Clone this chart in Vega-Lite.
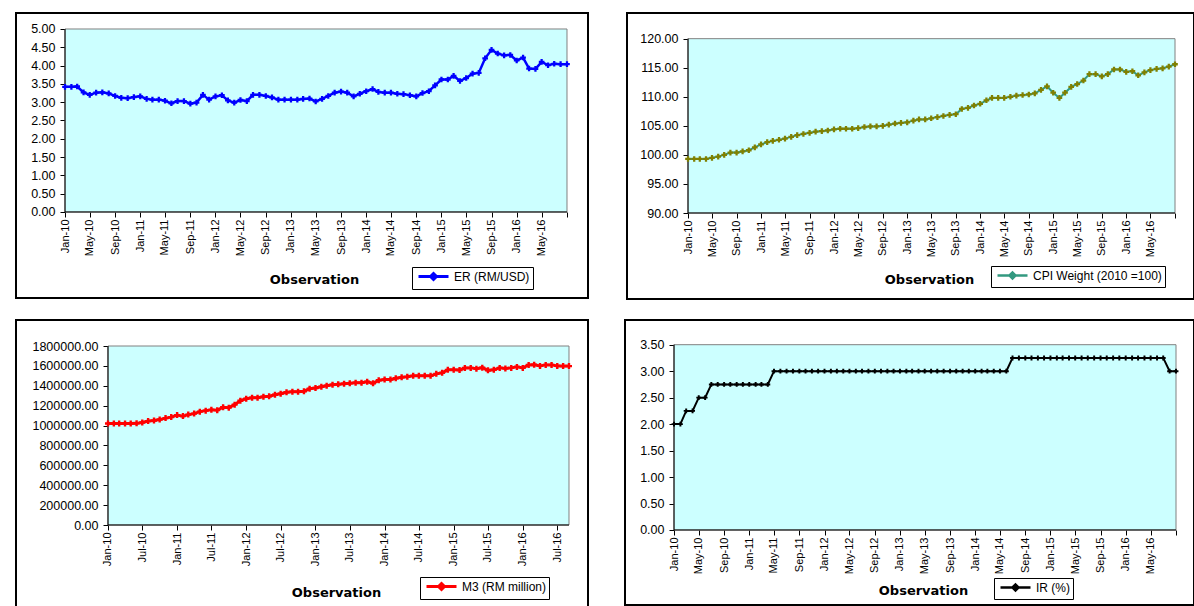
{
"$schema": "https://vega.github.io/schema/vega-lite/v6.json",
"background": "#ffffff",
"padding": {"left": 15, "top": 12, "right": 0, "bottom": 0},
"config": {
 "view": {"stroke": "#000000", "strokeWidth": 2, "fill": "#ffffff"},
 "axis": {"grid": false, "labelOverlap": false, "labelFlush": false, "labelBound": false, "labelSeparation": 0, "domain": false, "tickColor": "#000000", "tickSize": 5, "labelColor": "#000000", "labelFont": "Liberation Sans", "zindex": 1},
 "axisX": {"labelFontSize": 11, "labelPadding": 2, "labelAngle": -90},
 "axisY": {"labelFontSize": 12.5, "labelPadding": 5},
 "legend": {"orient": "none", "strokeColor": "#000000", "fillColor": "#ffffff", "padding": 3, "labelFont": "Liberation Sans", "labelFontSize": 12, "labelColor": "#000000", "symbolType": "M-3,0H3M-0.6,0L0,-0.6L0.6,0L0,0.6Z", "symbolSize": 100, "symbolOffset": 12, "labelOffset": 14}
},
"datasets": {"d": [
{"date":"2010-01-01","er":3.42,"cpi":99.3,"m3":1020000,"ir":2.00},
{"date":"2010-02-01","er":3.42,"cpi":99.3,"m3":1020000,"ir":2.00},
{"date":"2010-03-01","er":3.43,"cpi":99.3,"m3":1020000,"ir":2.25},
{"date":"2010-04-01","er":3.27,"cpi":99.3,"m3":1020000,"ir":2.25},
{"date":"2010-05-01","er":3.20,"cpi":99.5,"m3":1020000,"ir":2.50},
{"date":"2010-06-01","er":3.26,"cpi":99.7,"m3":1022000,"ir":2.50},
{"date":"2010-07-01","er":3.27,"cpi":100.0,"m3":1030000,"ir":2.75},
{"date":"2010-08-01","er":3.24,"cpi":100.4,"m3":1045000,"ir":2.75},
{"date":"2010-09-01","er":3.17,"cpi":100.4,"m3":1050000,"ir":2.75},
{"date":"2010-10-01","er":3.12,"cpi":100.6,"m3":1060000,"ir":2.75},
{"date":"2010-11-01","er":3.11,"cpi":100.8,"m3":1075000,"ir":2.75},
{"date":"2010-12-01","er":3.14,"cpi":101.3,"m3":1085000,"ir":2.75},
{"date":"2011-01-01","er":3.16,"cpi":101.8,"m3":1105000,"ir":2.75},
{"date":"2011-02-01","er":3.09,"cpi":102.2,"m3":1095000,"ir":2.75},
{"date":"2011-03-01","er":3.07,"cpi":102.4,"m3":1110000,"ir":2.75},
{"date":"2011-04-01","er":3.07,"cpi":102.6,"m3":1120000,"ir":2.75},
{"date":"2011-05-01","er":3.04,"cpi":102.8,"m3":1140000,"ir":3.00},
{"date":"2011-06-01","er":2.97,"cpi":103.1,"m3":1150000,"ir":3.00},
{"date":"2011-07-01","er":3.03,"cpi":103.4,"m3":1158000,"ir":3.00},
{"date":"2011-08-01","er":3.03,"cpi":103.6,"m3":1155000,"ir":3.00},
{"date":"2011-09-01","er":2.96,"cpi":103.8,"m3":1185000,"ir":3.00},
{"date":"2011-10-01","er":2.99,"cpi":104.0,"m3":1180000,"ir":3.00},
{"date":"2011-11-01","er":3.20,"cpi":104.1,"m3":1210000,"ir":3.00},
{"date":"2011-12-01","er":3.07,"cpi":104.2,"m3":1250000,"ir":3.00},
{"date":"2012-01-01","er":3.16,"cpi":104.4,"m3":1270000,"ir":3.00},
{"date":"2012-02-01","er":3.19,"cpi":104.5,"m3":1280000,"ir":3.00},
{"date":"2012-03-01","er":3.05,"cpi":104.5,"m3":1280000,"ir":3.00},
{"date":"2012-04-01","er":2.99,"cpi":104.5,"m3":1290000,"ir":3.00},
{"date":"2012-05-01","er":3.06,"cpi":104.6,"m3":1295000,"ir":3.00},
{"date":"2012-06-01","er":3.03,"cpi":104.8,"m3":1310000,"ir":3.00},
{"date":"2012-07-01","er":3.20,"cpi":104.9,"m3":1320000,"ir":3.00},
{"date":"2012-08-01","er":3.20,"cpi":104.9,"m3":1335000,"ir":3.00},
{"date":"2012-09-01","er":3.17,"cpi":105.0,"m3":1340000,"ir":3.00},
{"date":"2012-10-01","er":3.13,"cpi":105.2,"m3":1340000,"ir":3.00},
{"date":"2012-11-01","er":3.07,"cpi":105.4,"m3":1345000,"ir":3.00},
{"date":"2012-12-01","er":3.07,"cpi":105.5,"m3":1370000,"ir":3.00},
{"date":"2013-01-01","er":3.07,"cpi":105.6,"m3":1378000,"ir":3.00},
{"date":"2013-02-01","er":3.07,"cpi":105.9,"m3":1390000,"ir":3.00},
{"date":"2013-03-01","er":3.09,"cpi":106.1,"m3":1400000,"ir":3.00},
{"date":"2013-04-01","er":3.10,"cpi":106.1,"m3":1410000,"ir":3.00},
{"date":"2013-05-01","er":3.02,"cpi":106.3,"m3":1415000,"ir":3.00},
{"date":"2013-06-01","er":3.09,"cpi":106.5,"m3":1420000,"ir":3.00},
{"date":"2013-07-01","er":3.17,"cpi":106.7,"m3":1425000,"ir":3.00},
{"date":"2013-08-01","er":3.26,"cpi":106.9,"m3":1430000,"ir":3.00},
{"date":"2013-09-01","er":3.29,"cpi":107.0,"m3":1430000,"ir":3.00},
{"date":"2013-10-01","er":3.26,"cpi":107.9,"m3":1440000,"ir":3.00},
{"date":"2013-11-01","er":3.16,"cpi":108.1,"m3":1425000,"ir":3.00},
{"date":"2013-12-01","er":3.23,"cpi":108.5,"m3":1455000,"ir":3.00},
{"date":"2014-01-01","er":3.30,"cpi":108.8,"m3":1462000,"ir":3.00},
{"date":"2014-02-01","er":3.36,"cpi":109.4,"m3":1462000,"ir":3.00},
{"date":"2014-03-01","er":3.28,"cpi":109.8,"m3":1475000,"ir":3.00},
{"date":"2014-04-01","er":3.26,"cpi":109.8,"m3":1485000,"ir":3.00},
{"date":"2014-05-01","er":3.26,"cpi":109.8,"m3":1490000,"ir":3.00},
{"date":"2014-06-01","er":3.23,"cpi":110.0,"m3":1500000,"ir":3.00},
{"date":"2014-07-01","er":3.22,"cpi":110.2,"m3":1500000,"ir":3.25},
{"date":"2014-08-01","er":3.19,"cpi":110.3,"m3":1500000,"ir":3.25},
{"date":"2014-09-01","er":3.16,"cpi":110.4,"m3":1500000,"ir":3.25},
{"date":"2014-10-01","er":3.25,"cpi":110.6,"m3":1520000,"ir":3.25},
{"date":"2014-11-01","er":3.30,"cpi":111.2,"m3":1530000,"ir":3.25},
{"date":"2014-12-01","er":3.46,"cpi":111.8,"m3":1560000,"ir":3.25},
{"date":"2015-01-01","er":3.62,"cpi":110.7,"m3":1560000,"ir":3.25},
{"date":"2015-02-01","er":3.62,"cpi":109.8,"m3":1558000,"ir":3.25},
{"date":"2015-03-01","er":3.72,"cpi":110.7,"m3":1580000,"ir":3.25},
{"date":"2015-04-01","er":3.58,"cpi":111.7,"m3":1580000,"ir":3.25},
{"date":"2015-05-01","er":3.66,"cpi":112.2,"m3":1572000,"ir":3.25},
{"date":"2015-06-01","er":3.78,"cpi":112.8,"m3":1582000,"ir":3.25},
{"date":"2015-07-01","er":3.80,"cpi":113.9,"m3":1555000,"ir":3.25},
{"date":"2015-08-01","er":4.20,"cpi":113.9,"m3":1560000,"ir":3.25},
{"date":"2015-09-01","er":4.43,"cpi":113.5,"m3":1580000,"ir":3.25},
{"date":"2015-10-01","er":4.33,"cpi":113.9,"m3":1575000,"ir":3.25},
{"date":"2015-11-01","er":4.28,"cpi":114.7,"m3":1580000,"ir":3.25},
{"date":"2015-12-01","er":4.29,"cpi":114.7,"m3":1590000,"ir":3.25},
{"date":"2016-01-01","er":4.14,"cpi":114.3,"m3":1580000,"ir":3.25},
{"date":"2016-02-01","er":4.22,"cpi":114.4,"m3":1610000,"ir":3.25},
{"date":"2016-03-01","er":3.92,"cpi":113.7,"m3":1612000,"ir":3.25},
{"date":"2016-04-01","er":3.91,"cpi":114.2,"m3":1600000,"ir":3.25},
{"date":"2016-05-01","er":4.10,"cpi":114.6,"m3":1610000,"ir":3.25},
{"date":"2016-06-01","er":4.01,"cpi":114.8,"m3":1610000,"ir":3.25},
{"date":"2016-07-01","er":4.05,"cpi":114.9,"m3":1600000,"ir":3.25},
{"date":"2016-08-01","er":4.04,"cpi":115.2,"m3":1598000,"ir":3.00},
{"date":"2016-09-01","er":4.04,"cpi":115.6,"m3":1598000,"ir":3.00}
]},
"resolve": {"scale": {"x": "independent", "y": "independent", "color": "independent"}, "axis": {"x": "independent", "y": "independent"}, "legend": {"color": "independent"}},
"spacing": 19,
"vconcat": [
{
"spacing": 37,
"resolve": {"scale": {"x": "independent", "y": "independent", "color": "independent"}, "axis": {"x": "independent", "y": "independent"}, "legend": {"color": "independent"}},
"hconcat": [
{
"width": 572, "height": 285,
"layer": [
{"data": {"name": "d"}, "mark": {"type": "line", "strokeWidth": 2.5},
 "encoding": {
  "x": {"field": "date", "type": "temporal",
   "scale": {"type": "utc", "nice": false, "domain": [{"year": 2009, "month": 5, "date": 8, "hours": 7, "utc": true}, {"year": 2016, "month": 12, "date": 11, "hours": 22, "utc": true}]},
   "axis": {"orient": "bottom", "offset": -86, "format": "%b-%y", "labelAngle": -90, "tickCount": 200,
    "labelExpr": "datum.value >= 1472000000000 ? '' : datum.label",
    "values": [{"year":2010,"month":1,"date":1,"utc":true},{"year":2010,"month":5,"date":1,"utc":true},{"year":2010,"month":9,"date":1,"utc":true},{"year":2011,"month":1,"date":1,"utc":true},{"year":2011,"month":5,"date":1,"utc":true},{"year":2011,"month":9,"date":1,"utc":true},{"year":2012,"month":1,"date":1,"utc":true},{"year":2012,"month":5,"date":1,"utc":true},{"year":2012,"month":9,"date":1,"utc":true},{"year":2013,"month":1,"date":1,"utc":true},{"year":2013,"month":5,"date":1,"utc":true},{"year":2013,"month":9,"date":1,"utc":true},{"year":2014,"month":1,"date":1,"utc":true},{"year":2014,"month":5,"date":1,"utc":true},{"year":2014,"month":9,"date":1,"utc":true},{"year":2015,"month":1,"date":1,"utc":true},{"year":2015,"month":5,"date":1,"utc":true},{"year":2015,"month":9,"date":1,"utc":true},{"year":2016,"month":1,"date":1,"utc":true},{"year":2016,"month":5,"date":1,"utc":true},{"year":2016,"month":9,"date":1,"utc":true}],
    "title": "Observation", "titleFont": "DejaVu Sans", "titleFontSize": 13, "titleFontWeight": "bold", "titleColor": "#000000", "titleX": 298, "titleY": 67, "titleAlign": "center", "titleBaseline": "middle", "titleAngle": 0}},
  "y": {"field": "er", "type": "quantitative", "scale": {"domain": [-2.35, 5.437], "nice": false, "zero": false},
   "axis": {"orient": "left", "offset": -49, "tickCount": 200, "values": [0, 0.5, 1, 1.5, 2, 2.5, 3, 3.5, 4, 4.5, 5], "format": ".2f", "title": null}},
  "color": {"datum": "ER (RM/USD)", "type": "nominal", "scale": {"range": ["#0000FF"]},
   "legend": {"orient": "none", "legendX": 396, "legendY": 254, "title": null, "symbolStrokeWidth": 3}}
 }},
{"data": {"values": [{}]}, "mark": {"type": "rect", "fill": "#CCFFFF", "stroke": "#808080", "strokeWidth": 1},
 "encoding": {"x": {"datum": {"year": 2010, "month": 1, "date": 1, "utc": true}, "type": "temporal"}, "x2": {"datum": {"year": 2016, "month": 9, "date": 1, "utc": true}}, "y": {"datum": 0, "type": "quantitative"}, "y2": {"datum": 5}}},
{"data": {"values": [{}]}, "mark": {"type": "rule", "color": "#000000", "strokeWidth": 1},
 "encoding": {"x": {"datum": {"year": 2010, "month": 1, "date": 1, "utc": true}, "type": "temporal"}, "y": {"datum": 0, "type": "quantitative"}, "y2": {"datum": 5}}},
{"data": {"values": [{}]}, "mark": {"type": "rule", "color": "#000000", "strokeWidth": 1},
 "encoding": {"x": {"datum": {"year": 2010, "month": 1, "date": 1, "utc": true}, "type": "temporal"}, "x2": {"datum": {"year": 2016, "month": 9, "date": 1, "utc": true}}, "y": {"datum": 0, "type": "quantitative"}}},
{"data": {"name": "d"}, "mark": {"type": "line", "strokeWidth": 2.5, "color": "#0000FF"},
 "encoding": {"x": {"field": "date", "type": "temporal"}, "y": {"field": "er", "type": "quantitative"}}},
{"data": {"name": "d"}, "mark": {"type": "point", "shape": "cross", "filled": true, "size": 32, "color": "#0000FF", "opacity": 1},
 "encoding": {"x": {"field": "date", "type": "temporal"}, "y": {"field": "er", "type": "quantitative"}}}
]
},
{
"width": 567, "height": 286,
"layer": [
{"data": {"name": "d"}, "mark": {"type": "line", "strokeWidth": 2},
 "encoding": {
  "x": {"field": "date", "type": "temporal",
   "scale": {"type": "utc", "nice": false, "domain": [{"year": 2009, "month": 3, "date": 2, "utc": true}, {"year": 2016, "month": 12, "date": 5, "utc": true}]},
   "axis": {"orient": "bottom", "offset": -86, "format": "%b-%y", "labelAngle": -90, "tickCount": 200,
    "labelExpr": "datum.value >= 1472000000000 ? '' : datum.label",
    "values": [{"year":2010,"month":1,"date":1,"utc":true},{"year":2010,"month":5,"date":1,"utc":true},{"year":2010,"month":9,"date":1,"utc":true},{"year":2011,"month":1,"date":1,"utc":true},{"year":2011,"month":5,"date":1,"utc":true},{"year":2011,"month":9,"date":1,"utc":true},{"year":2012,"month":1,"date":1,"utc":true},{"year":2012,"month":5,"date":1,"utc":true},{"year":2012,"month":9,"date":1,"utc":true},{"year":2013,"month":1,"date":1,"utc":true},{"year":2013,"month":5,"date":1,"utc":true},{"year":2013,"month":9,"date":1,"utc":true},{"year":2014,"month":1,"date":1,"utc":true},{"year":2014,"month":5,"date":1,"utc":true},{"year":2014,"month":9,"date":1,"utc":true},{"year":2015,"month":1,"date":1,"utc":true},{"year":2015,"month":5,"date":1,"utc":true},{"year":2015,"month":9,"date":1,"utc":true},{"year":2016,"month":1,"date":1,"utc":true},{"year":2016,"month":5,"date":1,"utc":true},{"year":2016,"month":9,"date":1,"utc":true}],
    "title": "Observation", "titleFont": "DejaVu Sans", "titleFontSize": 13, "titleFontWeight": "bold", "titleColor": "#000000", "titleX": 302, "titleY": 66, "titleAlign": "center", "titleBaseline": "middle", "titleAngle": 0}},
  "y": {"field": "cpi", "type": "quantitative", "scale": {"domain": [75.2, 124.42], "nice": false, "zero": false},
   "axis": {"orient": "left", "offset": -61, "tickCount": 200, "values": [90, 95, 100, 105, 110, 115, 120], "format": ".2f", "title": null}},
  "color": {"datum": "CPI Weight (2010 =100)", "type": "nominal", "scale": {"range": ["#339980"]},
   "legend": {"orient": "none", "legendX": 364, "legendY": 253, "title": null, "symbolStrokeWidth": 2.5}}
 }},
{"data": {"values": [{}]}, "mark": {"type": "rect", "fill": "#CCFFFF", "stroke": "#808080", "strokeWidth": 1},
 "encoding": {"x": {"datum": {"year": 2010, "month": 1, "date": 1, "utc": true}, "type": "temporal"}, "x2": {"datum": {"year": 2016, "month": 9, "date": 1, "utc": true}}, "y": {"datum": 90, "type": "quantitative"}, "y2": {"datum": 120}}},
{"data": {"values": [{}]}, "mark": {"type": "rule", "color": "#000000", "strokeWidth": 1},
 "encoding": {"x": {"datum": {"year": 2010, "month": 1, "date": 1, "utc": true}, "type": "temporal"}, "y": {"datum": 90, "type": "quantitative"}, "y2": {"datum": 120}}},
{"data": {"values": [{}]}, "mark": {"type": "rule", "color": "#000000", "strokeWidth": 1},
 "encoding": {"x": {"datum": {"year": 2010, "month": 1, "date": 1, "utc": true}, "type": "temporal"}, "x2": {"datum": {"year": 2016, "month": 9, "date": 1, "utc": true}}, "y": {"datum": 90, "type": "quantitative"}}},
{"data": {"name": "d"}, "mark": {"type": "line", "strokeWidth": 2, "color": "#339980"},
 "encoding": {"x": {"field": "date", "type": "temporal"}, "y": {"field": "cpi", "type": "quantitative"}}},
{"data": {"name": "d"}, "mark": {"type": "point", "shape": "cross", "filled": true, "size": 32, "color": "#808000", "opacity": 1},
 "encoding": {"x": {"field": "date", "type": "temporal"}, "y": {"field": "cpi", "type": "quantitative"}}}
]
}
]
},
{
"spacing": 35,
"resolve": {"scale": {"x": "independent", "y": "independent", "color": "independent"}, "axis": {"x": "independent", "y": "independent"}, "legend": {"color": "independent"}},
"hconcat": [
{
"width": 572, "height": 290,
"layer": [
{"data": {"name": "d"}, "mark": {"type": "line", "strokeWidth": 3},
 "encoding": {
  "x": {"field": "date", "type": "temporal",
   "scale": {"type": "utc", "nice": false, "domain": [{"year": 2008, "month": 9, "date": 2, "hours": 2, "utc": true}, {"year": 2016, "month": 12, "date": 10, "hours": 10, "utc": true}]},
   "axis": {"orient": "bottom", "offset": -85, "format": "%b-%y", "labelAngle": -90, "tickCount": 200,
    "values": [{"year":2010,"month":1,"date":1,"utc":true},{"year":2010,"month":7,"date":1,"utc":true},{"year":2011,"month":1,"date":1,"utc":true},{"year":2011,"month":7,"date":1,"utc":true},{"year":2012,"month":1,"date":1,"utc":true},{"year":2012,"month":7,"date":1,"utc":true},{"year":2013,"month":1,"date":1,"utc":true},{"year":2013,"month":7,"date":1,"utc":true},{"year":2014,"month":1,"date":1,"utc":true},{"year":2014,"month":7,"date":1,"utc":true},{"year":2015,"month":1,"date":1,"utc":true},{"year":2015,"month":7,"date":1,"utc":true},{"year":2016,"month":1,"date":1,"utc":true},{"year":2016,"month":7,"date":1,"utc":true}],
    "title": "Observation", "titleFont": "DejaVu Sans", "titleFontSize": 13, "titleFontWeight": "bold", "titleColor": "#000000", "titleX": 320, "titleY": 67, "titleAlign": "center", "titleBaseline": "middle", "titleAngle": 0}},
  "y": {"field": "m3", "type": "quantitative", "scale": {"domain": [-854749, 2061453], "nice": false, "zero": false},
   "axis": {"orient": "left", "offset": -92, "tickCount": 200, "values": [0, 200000, 400000, 600000, 800000, 1000000, 1200000, 1400000, 1600000, 1800000], "format": ".2f", "title": null}},
  "color": {"datum": "M3 (RM million)", "type": "nominal", "scale": {"range": ["#FF0000"]},
   "legend": {"orient": "none", "legendX": 404, "legendY": 257, "title": null, "symbolStrokeWidth": 3}}
 }},
{"data": {"values": [{}]}, "mark": {"type": "rect", "fill": "#CCFFFF", "stroke": "#808080", "strokeWidth": 1},
 "encoding": {"x": {"datum": {"year": 2010, "month": 1, "date": 1, "utc": true}, "type": "temporal"}, "x2": {"datum": {"year": 2016, "month": 9, "date": 1, "utc": true}}, "y": {"datum": 0, "type": "quantitative"}, "y2": {"datum": 1800000}}},
{"data": {"values": [{}]}, "mark": {"type": "rule", "color": "#000000", "strokeWidth": 1},
 "encoding": {"x": {"datum": {"year": 2010, "month": 1, "date": 1, "utc": true}, "type": "temporal"}, "y": {"datum": 0, "type": "quantitative"}, "y2": {"datum": 1800000}}},
{"data": {"values": [{}]}, "mark": {"type": "rule", "color": "#000000", "strokeWidth": 1},
 "encoding": {"x": {"datum": {"year": 2010, "month": 1, "date": 1, "utc": true}, "type": "temporal"}, "x2": {"datum": {"year": 2016, "month": 9, "date": 1, "utc": true}}, "y": {"datum": 0, "type": "quantitative"}}},
{"data": {"name": "d"}, "mark": {"type": "line", "strokeWidth": 3, "color": "#FF0000"},
 "encoding": {"x": {"field": "date", "type": "temporal"}, "y": {"field": "m3", "type": "quantitative"}}},
{"data": {"name": "d"}, "mark": {"type": "point", "shape": "cross", "filled": true, "size": 36, "color": "#FF0000", "opacity": 1},
 "encoding": {"x": {"field": "date", "type": "temporal"}, "y": {"field": "m3", "type": "quantitative"}}}
]
},
{
"width": 569, "height": 285,
"layer": [
{"data": {"name": "d"}, "mark": {"type": "line", "strokeWidth": 2},
 "encoding": {
  "x": {"field": "date", "type": "temporal",
   "scale": {"type": "utc", "nice": false, "domain": [{"year": 2009, "month": 5, "date": 8, "hours": 7, "utc": true}, {"year": 2016, "month": 11, "date": 27, "hours": 7, "utc": true}]},
   "axis": {"orient": "bottom", "offset": -75, "format": "%b-%y", "labelAngle": -90, "tickCount": 200,
    "labelExpr": "datum.value >= 1472000000000 ? '' : datum.label",
    "values": [{"year":2010,"month":1,"date":1,"utc":true},{"year":2010,"month":5,"date":1,"utc":true},{"year":2010,"month":9,"date":1,"utc":true},{"year":2011,"month":1,"date":1,"utc":true},{"year":2011,"month":5,"date":1,"utc":true},{"year":2011,"month":9,"date":1,"utc":true},{"year":2012,"month":1,"date":1,"utc":true},{"year":2012,"month":5,"date":1,"utc":true},{"year":2012,"month":9,"date":1,"utc":true},{"year":2013,"month":1,"date":1,"utc":true},{"year":2013,"month":5,"date":1,"utc":true},{"year":2013,"month":9,"date":1,"utc":true},{"year":2014,"month":1,"date":1,"utc":true},{"year":2014,"month":5,"date":1,"utc":true},{"year":2014,"month":9,"date":1,"utc":true},{"year":2015,"month":1,"date":1,"utc":true},{"year":2015,"month":5,"date":1,"utc":true},{"year":2015,"month":9,"date":1,"utc":true},{"year":2016,"month":1,"date":1,"utc":true},{"year":2016,"month":5,"date":1,"utc":true},{"year":2016,"month":9,"date":1,"utc":true}],
    "title": "Observation", "titleFont": "DejaVu Sans", "titleFontSize": 13, "titleFontWeight": "bold", "titleColor": "#000000", "titleX": 298, "titleY": 60, "titleAlign": "center", "titleBaseline": "middle", "titleAngle": 0}},
  "y": {"field": "ir", "type": "quantitative", "scale": {"domain": [-1.4167, 3.9666], "nice": false, "zero": false},
   "axis": {"orient": "left", "offset": -49, "tickCount": 200, "values": [0, 0.5, 1, 1.5, 2, 2.5, 3, 3.5], "format": ".2f", "title": null}},
  "color": {"datum": "IR (%)", "type": "nominal", "scale": {"range": ["#000000"]},
   "legend": {"orient": "none", "legendX": 369, "legendY": 258, "title": null, "symbolStrokeWidth": 2.5}}
 }},
{"data": {"values": [{}]}, "mark": {"type": "rect", "fill": "#CCFFFF", "stroke": "#808080", "strokeWidth": 1},
 "encoding": {"x": {"datum": {"year": 2010, "month": 1, "date": 1, "utc": true}, "type": "temporal"}, "x2": {"datum": {"year": 2016, "month": 9, "date": 1, "utc": true}}, "y": {"datum": 0, "type": "quantitative"}, "y2": {"datum": 3.5}}},
{"data": {"values": [{}]}, "mark": {"type": "rule", "color": "#000000", "strokeWidth": 1},
 "encoding": {"x": {"datum": {"year": 2010, "month": 1, "date": 1, "utc": true}, "type": "temporal"}, "y": {"datum": 0, "type": "quantitative"}, "y2": {"datum": 3.5}}},
{"data": {"values": [{}]}, "mark": {"type": "rule", "color": "#000000", "strokeWidth": 1},
 "encoding": {"x": {"datum": {"year": 2010, "month": 1, "date": 1, "utc": true}, "type": "temporal"}, "x2": {"datum": {"year": 2016, "month": 9, "date": 1, "utc": true}}, "y": {"datum": 0, "type": "quantitative"}}},
{"data": {"name": "d"}, "mark": {"type": "line", "strokeWidth": 2, "color": "#000000"},
 "encoding": {"x": {"field": "date", "type": "temporal"}, "y": {"field": "ir", "type": "quantitative"}}},
{"data": {"name": "d"}, "mark": {"type": "point", "shape": "cross", "filled": true, "size": 24, "color": "#000000", "opacity": 1},
 "encoding": {"x": {"field": "date", "type": "temporal"}, "y": {"field": "ir", "type": "quantitative"}}}
]
}
]
}
]
}
